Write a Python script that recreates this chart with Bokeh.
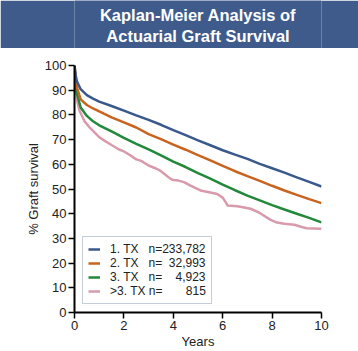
from bokeh.plotting import figure
from bokeh.models import Range1d, FixedTicker, Legend, LegendItem
from bokeh.layouts import column
from bokeh.core.properties import value
from bokeh.embed import file_html
from bokeh.resources import INLINE

# ---- text ----
title_lines = ["Kaplan-Meier Analysis of", "Actuarial Graft Survival"]
x_label = "Years"
y_label = "% Graft survival"
NB = "\u00a0"
series_labels = [
    "1. TX" + NB * 3 + "n=233,782",
    "2. TX" + NB * 3 + "n=" + NB * 2 + "32,993",
    "3. TX" + NB * 3 + "n=" + NB * 4 + "4,923",
    ">3. TX" + NB + "n=" + NB * 7 + "815",
]
x_ticks = [0, 2, 4, 6, 8, 10]
y_ticks = [0, 10, 20, 30, 40, 50, 60, 70, 80, 90, 100]

# ---- data ----
years = [0, 0.05, 0.1, 0.25, 0.5, 0.75, 1, 1.5, 2, 2.5, 3, 3.5, 4, 4.5, 5,
         5.5, 6, 6.5, 7, 7.5, 8, 8.5, 9, 9.5, 10]
surv_tx1 = [100, 96, 93.5, 90.4, 88.0, 86.6, 85.4, 83.6, 81.7, 79.8, 78.0, 76.0,
            73.8, 71.8, 69.7, 67.7, 65.7, 63.9, 62.2, 60.2, 58.4, 56.6, 54.7, 52.9, 51.0]
surv_tx2 = [100, 94, 91, 86.3, 84.0, 82.6, 81.4, 79.0, 77.0, 74.9, 72.2, 70.2,
            68.0, 65.9, 63.7, 61.6, 59.4, 57.2, 55.2, 53.3, 51.3, 49.4, 47.6, 45.9, 44.3]
surv_tx3 = [100, 92, 88.5, 83.0, 79.6, 77.4, 75.8, 73.3, 70.7, 68.3, 66.0, 63.6,
            61.1, 58.9, 56.4, 54.2, 51.8, 49.5, 47.3, 45.4, 43.5, 41.7, 40.0, 38.3, 36.5]
years_tx4 = [0, 0.03, 0.1, 0.2, 0.4, 0.65, 1.0, 1.21, 1.5, 1.8, 2.0, 2.27, 2.5,
             2.7, 3.0, 3.3, 3.5, 3.89, 4.0, 4.21, 4.43, 4.7, 5.1, 5.5, 5.78, 6.0,
             6.1, 6.2, 6.6, 7.13, 7.5, 7.94, 8.2, 8.5, 8.9, 9.2, 9.4, 10]
surv_tx4 = [100, 92, 86, 81.8, 77.5, 74.5, 71, 69.6, 67.8, 66, 65.2, 63.6, 62.0,
            61.4, 59.5, 58.3, 57.2, 54.1, 53.6, 53.4, 52.8, 51.4, 49.4, 48.6, 48.0,
            46.5, 45.0, 43.3, 43.0, 42.0, 40.3, 37.5, 36.4, 35.9, 35.5, 34.6, 34.1, 33.9]

colors = ["#39598d", "#c8641f", "#22883a", "#d99aab"]
FONT = "Liberation Sans"
BANNER = "#3e5b8b"

# ---- banner ----
banner = figure(width=358, height=48, x_range=Range1d(0, 1), y_range=Range1d(0, 1),
                output_backend="svg", toolbar_location=None,
                x_axis_type=None, y_axis_type=None, min_border=0)
banner.outline_line_color = None
banner.background_fill_color = BANNER
banner.border_fill_color = BANNER
banner.grid.visible = False
banner.text(x=[0.5, 0.5], y=[0.69, 0.27], text=title_lines,
            text_align="center", text_baseline="middle",
            text_font=value(FONT), text_font_style="bold",
            text_font_size="16.5px", text_color="white")

# ---- main plot ----
p = figure(width=358, height=303, x_range=Range1d(0, 10), y_range=Range1d(0, 100),
           output_backend="svg", toolbar_location=None,
           min_border_left=74, min_border_right=37, min_border_top=17,
           min_border_bottom=39)
p.outline_line_color = None
p.grid.visible = False

xs = [years, years, years, years_tx4]
ys = [surv_tx1, surv_tx2, surv_tx3, surv_tx4]
renderers = [None] * 4
for i in [3, 2, 1, 0]:
    renderers[i] = p.line(xs[i], ys[i], line_color=colors[i], line_width=2.5)

for ax in (p.xaxis[0], p.yaxis[0]):
    ax.axis_line_color = "black"
    ax.axis_line_width = 2
    ax.major_tick_line_color = "black"
    ax.major_tick_line_width = 1.5
    ax.major_tick_out = 6
    ax.major_tick_in = 0
    ax.minor_tick_line_color = None
    ax.major_label_text_font = FONT
    ax.major_label_text_font_size = "13px"
    ax.major_label_text_color = "#222222"
    ax.axis_label_text_font = FONT
    ax.axis_label_text_font_size = "13px"
    ax.axis_label_text_font_style = "normal"
    ax.axis_label_text_color = "#222222"
    ax.major_label_standoff = 2

p.xaxis.ticker = FixedTicker(ticks=x_ticks)
p.yaxis.ticker = FixedTicker(ticks=y_ticks)
p.xaxis.axis_label = x_label
p.yaxis.axis_label = y_label
p.xaxis.axis_label_standoff = 1
p.yaxis.axis_label_standoff = 1

legend = Legend(
    items=[LegendItem(label=series_labels[i], renderers=[renderers[i]]) for i in range(4)],
    location="bottom_left", margin=8, padding=5, spacing=-1,
    glyph_width=12, glyph_height=12, label_height=12, label_standoff=10,
    label_text_font=FONT, label_text_font_size="12px", label_text_color="#222222",
    border_line_color="#8c9cb8", border_line_width=1.5,
    background_fill_color="white", background_fill_alpha=1,
)
p.add_layout(legend)

layout = column(banner, p, spacing=0)
open("out.html", "w").write(file_html(layout, INLINE))
